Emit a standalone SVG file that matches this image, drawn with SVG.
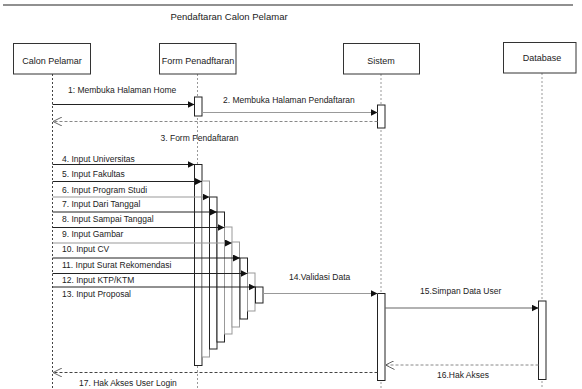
<svg xmlns="http://www.w3.org/2000/svg" width="582" height="389" viewBox="0 0 582 389">
<style>
text{font-family:"Liberation Sans",Arial,sans-serif;fill:#222}
.t{font-size:9.5px}
.a{font-size:9px}
.m{font-size:8.5px}
.box{fill:#fff;stroke:#333;stroke-width:1}
.life{fill:none;stroke:#999;stroke-width:1;stroke-dasharray:2,2}
.lifed{fill:none;stroke:#444;stroke-width:1;stroke-dasharray:2,2}
.act{fill:#fff;stroke:#222;stroke-width:1}
.actg{fill:#fff;stroke:#999;stroke-width:1}
.msg{fill:none;stroke:#222;stroke-width:1;marker-end:url(#fa)}
.msgg{fill:none;stroke:#999;stroke-width:1.2;marker-end:url(#fa)}
.ret{fill:none;stroke:#444;stroke-width:1;stroke-dasharray:3,2;marker-end:url(#oa)}
.retg{fill:none;stroke:#888;stroke-width:1;stroke-dasharray:3,2;marker-end:url(#oa)}
</style>
<defs>
<marker id="fa" viewBox="0 0 10 10" refX="10" refY="5" markerWidth="7" markerHeight="7" markerUnits="userSpaceOnUse" orient="auto">
<path d="M0,0 L10,5 L0,10 z" fill="#111"/>
</marker>
<marker id="oa" viewBox="0 0 10 10" refX="10" refY="5" markerWidth="9" markerHeight="9" markerUnits="userSpaceOnUse" orient="auto">
<path d="M0,0 L10,5 L0,10" fill="none" stroke="#555" stroke-width="1"/>
</marker>
</defs>
<rect width="582" height="389" fill="#fff"/>
<line x1="3" y1="5" x2="573" y2="5" stroke="#222" stroke-width="1.2"/>
<text class="t" x="229" y="19.5" text-anchor="middle">Pendaftaran Calon Pelamar</text>

<g id="lifelines">
<line class="lifed" x1="52.5" y1="74" x2="52.5" y2="389"/>
<line class="life" x1="197.5" y1="74" x2="197.5" y2="389"/>
<line class="life" x1="381" y1="74" x2="381" y2="389"/>
<line class="life" x1="542" y1="73" x2="542" y2="389"/>
</g>

<g id="calon-pelamar">
<rect class="box" x="13.5" y="43.5" width="77" height="30.5"/>
<text class="a" x="52" y="63.5" text-anchor="middle">Calon Pelamar</text>
</g>
<g id="form-pendaftaran">
<rect class="box" x="159.5" y="43.5" width="76.5" height="30.5"/>
<text class="a" x="198" y="63.5" text-anchor="middle">Form Penadftaran</text>
</g>
<g id="sistem">
<rect class="box" x="343.5" y="43.5" width="76" height="30.5"/>
<text class="a" x="381" y="63.5" text-anchor="middle">Sistem</text>
</g>
<g id="database">
<rect class="box" x="503.5" y="42.5" width="72.5" height="30.5"/>
<text class="a" x="542" y="60.5" text-anchor="middle">Database</text>
</g>

<g id="activations">
<rect class="act" x="194.5" y="97" width="7.5" height="19"/>
<rect class="act" x="377.5" y="105" width="7.5" height="23"/>
<rect class="act" x="194.5" y="164.5" width="7.5" height="201"/>
<rect class="actg" x="202" y="181" width="7.5" height="176"/>
<rect class="act" x="209.5" y="197" width="7.5" height="152"/>
<rect class="act" x="217" y="212" width="7.5" height="130"/>
<rect class="actg" x="224.5" y="227" width="7.5" height="107"/>
<rect class="actg" x="232" y="242" width="7.5" height="85"/>
<rect class="act" x="240" y="258" width="7.5" height="61"/>
<rect class="actg" x="247.5" y="273" width="7.5" height="38"/>
<rect class="act" x="255.5" y="287" width="7.5" height="16"/>
<rect class="act" x="377.5" y="293.5" width="7.5" height="87"/>
<rect class="act" x="538.5" y="301" width="7.5" height="78.5"/>
</g>

<g id="connectors">
<line class="msg" x1="52.5" y1="104.5" x2="194.5" y2="104.5"/>
<line class="msgg" x1="202" y1="112.5" x2="377.5" y2="112.5"/>
<line class="retg" x1="377.5" y1="121.5" x2="53" y2="121.5"/>
<line class="msg" x1="52.5" y1="164.5" x2="194.5" y2="164.5"/>
<line class="msg" x1="52.5" y1="181.5" x2="202" y2="181.5"/>
<line class="msgg" x1="52.5" y1="197" x2="209.5" y2="197"/>
<line class="msg" x1="52.5" y1="212" x2="217" y2="212"/>
<line class="msg" x1="52.5" y1="227.5" x2="224.5" y2="227.5"/>
<line class="msgg" x1="52.5" y1="243" x2="232" y2="243"/>
<line class="msg" x1="52.5" y1="258" x2="240" y2="258"/>
<line class="msg" x1="52.5" y1="273.5" x2="247.5" y2="273.5"/>
<line class="msg" x1="52.5" y1="287" x2="255.5" y2="287"/>
<line class="msgg" x1="263" y1="293.5" x2="377.5" y2="293.5"/>
<line class="msgg" x1="385" y1="308" x2="538.5" y2="308" style="stroke:#666"/>
<line class="retg" x1="538.5" y1="365" x2="385.5" y2="365"/>
<line class="ret" x1="377.5" y1="372.5" x2="53" y2="372.5"/>
</g>

<g id="labels">
<text class="m" x="68" y="93">1: Membuka Halaman Home</text>
<text class="m" x="223" y="102.5">2. Membuka Halaman Pendaftaran</text>
<text class="m" x="160.5" y="141">3. Form Pendaftaran</text>
<text class="m" x="62" y="161.5">4. Input Universitas</text>
<text class="m" x="62" y="176.5">5. Input Fakultas</text>
<text class="m" x="62" y="192.5">6. Input Program Studi</text>
<text class="m" x="62" y="207">7. Input Dari Tanggal</text>
<text class="m" x="62" y="222">8. Input Sampai Tanggal</text>
<text class="m" x="62" y="237">9. Input Gambar</text>
<text class="m" x="62" y="252">10. Input CV</text>
<text class="m" x="62" y="268">11. Input Surat Rekomendasi</text>
<text class="m" x="62" y="282.5">12. Input KTP/KTM</text>
<text class="m" x="62" y="297">13. Input Proposal</text>
<text class="m" x="289" y="280">14.Validasi Data</text>
<text class="m" x="420" y="294">15.Simpan Data User</text>
<text class="m" x="437" y="378">16.Hak Akses</text>
<text class="m" x="79" y="386">17. Hak Akses User Login</text>
</g>
</svg>
